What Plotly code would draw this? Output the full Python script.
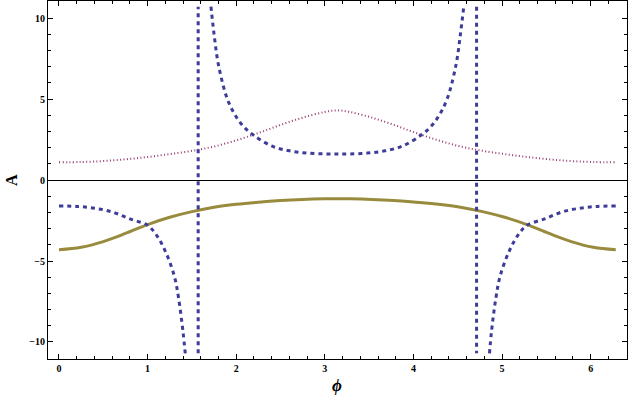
import plotly.graph_objects as go

# ---- data ----
# dashed blue curve (three branches + two jump lines)
blue_left_phi = [0, 0.2, 0.4, 0.6, 0.8, 1.0, 1.1, 1.2, 1.3, 1.35, 1.4, 1.425]
blue_left_A = [-1.6, -1.63, -1.74, -1.97, -2.4, -2.8, -3.4, -4.4, -5.9, -7.3, -9.4, -10.7]

blue_mid_phi = [1.715, 1.75, 1.8, 1.9, 2.0, 2.1, 2.2, 2.4, 2.6, 2.8, 3.0, 3.1416,
                3.28, 3.48, 3.68, 3.88, 4.08, 4.18, 4.28, 4.38, 4.48, 4.53, 4.568]
blue_mid_A = [10.7, 9.0, 7.1, 5.0, 3.9, 3.2, 2.75, 2.1, 1.8, 1.66, 1.61, 1.6,
              1.61, 1.66, 1.8, 2.1, 2.75, 3.2, 3.9, 5.0, 7.1, 9.0, 10.7]

blue_right_phi = [4.858, 4.88, 4.93, 4.98, 5.08, 5.18, 5.28, 5.48, 5.68, 5.88, 6.08, 6.2832]
blue_right_A = [-10.7, -9.4, -7.3, -5.9, -4.4, -3.4, -2.8, -2.4, -1.97, -1.74, -1.63, -1.6]

jump1_phi = [1.5708, 1.5708]
jump1_A = [-10.7, 10.7]
jump2_phi = [4.7124, 4.7124]
jump2_A = [10.7, -10.7]

# dotted pink and solid gold curves
phi = [0, 0.25, 0.5, 0.75, 1.0, 1.25, 1.5, 1.75, 2.0, 2.25, 2.5, 2.75, 3.0, 3.1416,
       3.28, 3.53, 3.78, 4.03, 4.28, 4.53, 4.78, 5.03, 5.28, 5.53, 5.78, 6.03, 6.2832]
pink_A = [1.1, 1.11, 1.17, 1.28, 1.42, 1.6, 1.8, 2.07, 2.45, 2.9, 3.4, 3.85, 4.2, 4.3,
          4.2, 3.85, 3.4, 2.9, 2.45, 2.07, 1.8, 1.6, 1.42, 1.28, 1.17, 1.11, 1.1]
gold_A = [-4.3, -4.15, -3.8, -3.3, -2.75, -2.3, -1.95, -1.68, -1.5, -1.37, -1.27, -1.2, -1.16, -1.15,
          -1.16, -1.2, -1.27, -1.37, -1.5, -1.68, -1.95, -2.3, -2.75, -3.3, -3.8, -4.15, -4.3]

x_ticks = [0, 1, 2, 3, 4, 5, 6]
y_ticks = [-10, -5, 0, 5, 10]

BLUE = "rgb(61,61,153)"
PINK = "rgb(153,61,113)"
GOLD = "rgb(153,139,61)"

blue_x = blue_left_phi + [None] + jump1_phi + [None] + blue_mid_phi + [None] + jump2_phi + [None] + blue_right_phi
blue_y = blue_left_A + [None] + jump1_A + [None] + blue_mid_A + [None] + jump2_A + [None] + blue_right_A

fig = go.Figure()
fig.add_trace(go.Scatter(x=phi, y=pink_A, mode="lines", line=dict(color=PINK, width=2, dash="1px,2.4px", shape="spline"),
                         showlegend=False, hoverinfo="skip"))
fig.add_trace(go.Scatter(x=phi, y=gold_A, mode="lines", line=dict(color=GOLD, width=3, shape="spline"),
                         showlegend=False, hoverinfo="skip"))
fig.add_trace(go.Scatter(x=blue_x, y=blue_y, mode="lines", line=dict(color=BLUE, width=3, dash="4px,4px", shape="spline"),
                         showlegend=False, hoverinfo="skip", connectgaps=False))

tickfont = dict(family="Liberation Serif", size=10, color="black", weight="bold")

fig.update_layout(
    width=629, height=401,
    margin=dict(l=48, r=2, t=1, b=42),
    paper_bgcolor="white", plot_bgcolor="white",
    xaxis=dict(range=[-0.124, 6.41], tickvals=x_ticks, ticks="inside", ticklen=5, tickcolor="black",
               showline=True, linecolor="black", linewidth=1, mirror="allticks", automargin=False,
               showgrid=False, zeroline=False, tickfont=tickfont,
               minor=dict(dtick=0.2, tick0=0, ticks="inside", ticklen=3, tickcolor="black", showgrid=False)),
    yaxis=dict(range=[-11.05, 11.05], tickvals=y_ticks, ticks="inside", ticklen=5, tickcolor="black",
               showline=True, linecolor="black", linewidth=1, mirror="allticks", automargin=False,
               showgrid=False, zeroline=True, zerolinecolor="black", zerolinewidth=1, tickfont=tickfont,
               minor=dict(dtick=1, tick0=0, ticks="inside", ticklen=3, tickcolor="black", showgrid=False)),
    annotations=[
        dict(text="<b><i>ϕ</i></b>", xref="paper", yref="paper", x=(337 - 48) / 579, y=-(385 - 359) / 358,
             xanchor="center", yanchor="middle", showarrow=False,
             font=dict(family="Liberation Serif", size=17, color="black")),
        dict(text="<b>A</b>", xref="paper", yref="paper", x=-(48 - 11) / 579, y=0.5,
             xanchor="center", yanchor="middle", showarrow=False, textangle=-90,
             font=dict(family="Liberation Serif", size=16, color="black")),
    ],
)

fig.write_html("out.html", config={"displayModeBar": False},
               post_script="document.body.style.margin='0px';document.body.style.overflow='hidden';")
